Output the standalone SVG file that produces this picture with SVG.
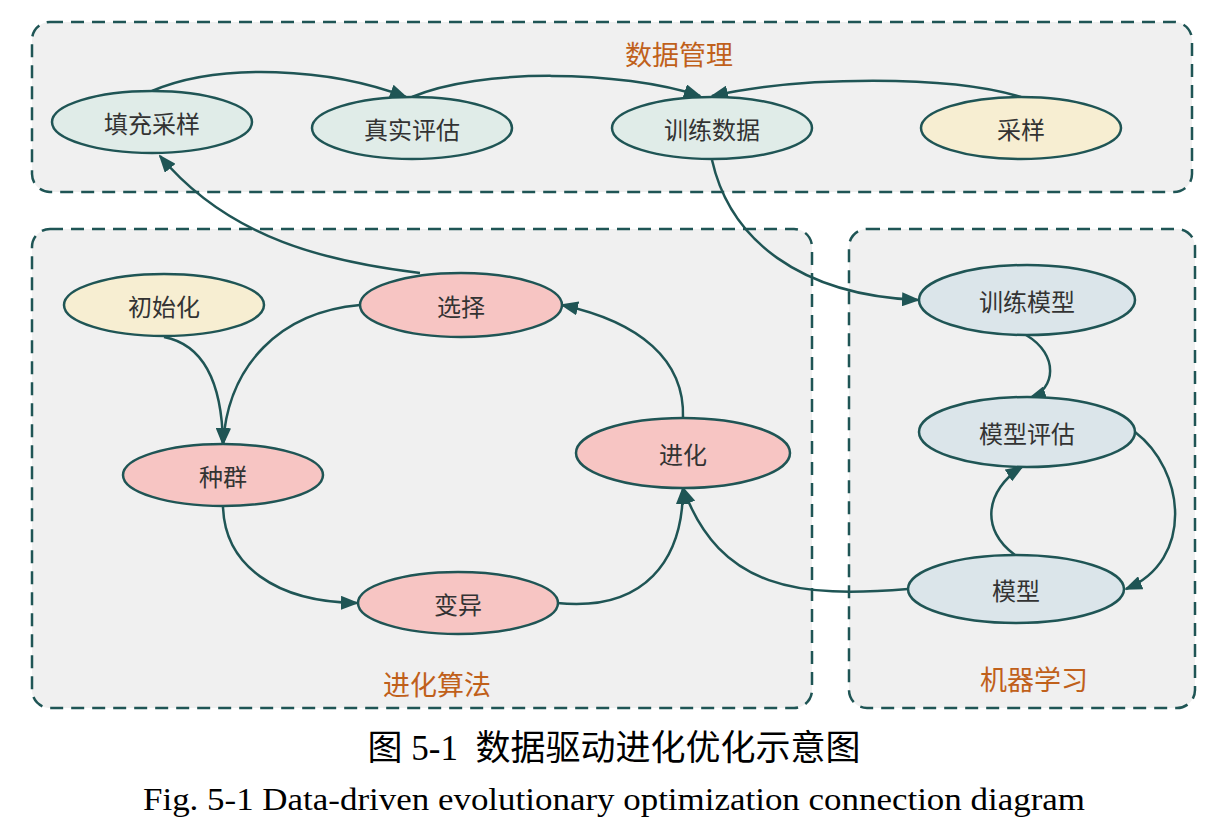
<svg xmlns="http://www.w3.org/2000/svg" width="1224" height="838" viewBox="0 0 1224 838">
<style>
.grp{fill:#f0f0f0;stroke:#1f5555;stroke-width:2.5;stroke-dasharray:13 8}
.node{stroke:#1f5555;stroke-width:2.5}
.dm{fill:#e0ece8}
.yl{fill:#f7eed2}
.pk{fill:#f7c5c3}
.ml{fill:#dbe5ea}
.lbl{font-family:"Noto Sans CJK SC",sans-serif;font-size:24px;fill:#333;text-anchor:middle;dominant-baseline:central}
.glbl{font-family:"Noto Sans CJK SC",sans-serif;font-size:27px;fill:#c0601a;text-anchor:middle;dominant-baseline:central}
.edge{fill:none;stroke:#1f5555;stroke-width:2.5;marker-end:url(#arr)}
.cap{font-family:"Liberation Serif","Noto Sans CJK SC",serif;fill:#000;text-anchor:middle}
</style>
<defs>
<marker id="arr" markerUnits="userSpaceOnUse" markerWidth="18" markerHeight="14" refX="16" refY="7" orient="auto">
<path d="M0,0 L18,7 L0,14 Z" fill="#1f5555"/>
</marker>
</defs>
<rect width="1224" height="838" fill="#ffffff"/>
<g id="group-data">
<rect class="grp" x="32" y="22" width="1160" height="170" rx="18"/>
<text class="glbl" x="679" y="53">数据管理</text>
</g>
<g id="group-ea">
<rect class="grp" x="32" y="229" width="780" height="479" rx="18"/>
<text class="glbl" x="437" y="683">进化算法</text>
</g>
<g id="group-ml">
<rect class="grp" x="849" y="229" width="346" height="479" rx="18"/>
<text class="glbl" x="1034" y="678">机器学习</text>
</g>
<g id="edges">
<path class="edge" d="M152,91 C220,62 330,68 406,97"/>
<path class="edge" d="M412,97 C480,68 620,70 700,96"/>
<path class="edge" d="M1021,97 C950,75 800,76 712,96"/>
<path class="edge" d="M712,160 C730,240 800,295 918,300"/>
<path class="edge" d="M420,273 C330,262 230,240 160,156"/>
<path class="edge" d="M164,337 C205,345 222,385 223,444"/>
<path class="edge" d="M360,305 C280,312 228,365 223,444"/>
<path class="edge" d="M223,507 C225,565 275,602 357,603"/>
<path class="edge" d="M557,603 C645,612 683,560 683,488"/>
<path class="edge" d="M683,418 C685,360 640,322 562,305"/>
<path class="edge" d="M908,589 C800,598 720,590 683,488"/>
<path class="edge" d="M1026,335 C1060,355 1055,390 1030,398"/>
<path class="edge" d="M1015,555 C980,530 985,490 1022,467"/>
<path class="edge" d="M1135,432 C1185,470 1195,560 1126,589"/>
</g>
<g id="n-tcsy"><ellipse class="node dm" cx="152" cy="122" rx="100" ry="31"/><text class="lbl" x="152" y="122">填充采样</text></g>
<g id="n-zspg"><ellipse class="node dm" cx="412" cy="128" rx="100" ry="31"/><text class="lbl" x="412" y="128">真实评估</text></g>
<g id="n-xlsj"><ellipse class="node dm" cx="712" cy="128" rx="100" ry="31"/><text class="lbl" x="712" y="128">训练数据</text></g>
<g id="n-cy"><ellipse class="node yl" cx="1021" cy="128" rx="100" ry="31"/><text class="lbl" x="1021" y="128">采样</text></g>
<g id="n-csh"><ellipse class="node yl" cx="164" cy="305" rx="100" ry="31"/><text class="lbl" x="164" y="305">初始化</text></g>
<g id="n-xz"><ellipse class="node pk" cx="461" cy="305" rx="101" ry="32"/><text class="lbl" x="461" y="305">选择</text></g>
<g id="n-zq"><ellipse class="node pk" cx="223" cy="475" rx="100" ry="31"/><text class="lbl" x="223" y="475">种群</text></g>
<g id="n-jh"><ellipse class="node pk" cx="683" cy="453" rx="107" ry="35"/><text class="lbl" x="683" y="453">进化</text></g>
<g id="n-by"><ellipse class="node pk" cx="458" cy="603" rx="100" ry="31"/><text class="lbl" x="458" y="603">变异</text></g>
<g id="n-xlmx"><ellipse class="node ml" cx="1027" cy="300" rx="108" ry="35"/><text class="lbl" x="1027" y="300">训练模型</text></g>
<g id="n-mxpg"><ellipse class="node ml" cx="1027" cy="432" rx="108" ry="35"/><text class="lbl" x="1027" y="432">模型评估</text></g>
<g id="n-mx"><ellipse class="node ml" cx="1016" cy="589" rx="108" ry="34"/><text class="lbl" x="1016" y="589">模型</text></g>
<text class="cap" x="614" y="760" font-size="35" xml:space="preserve">图 5-1  数据驱动进化优化示意图</text>
<text class="cap" x="614" y="810" font-size="32" textLength="942" lengthAdjust="spacingAndGlyphs">Fig. 5-1 Data-driven evolutionary optimization connection diagram</text>
</svg>
